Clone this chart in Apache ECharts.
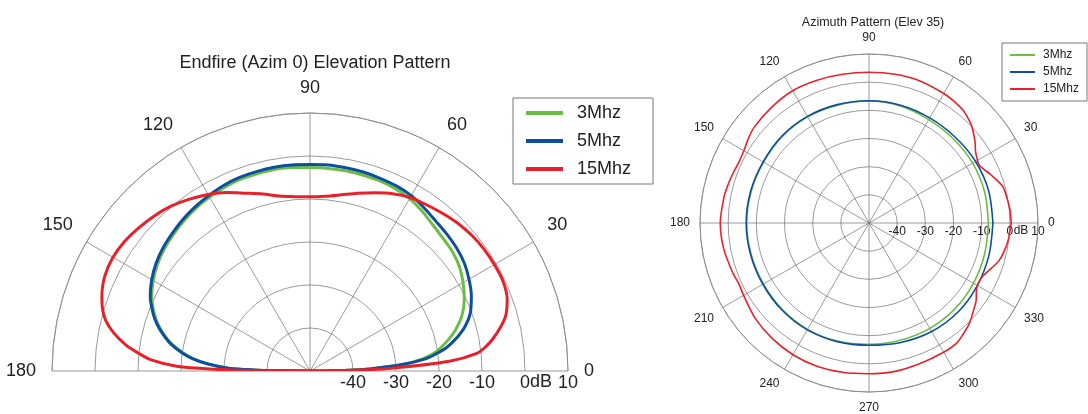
<!DOCTYPE html>
<html><head><meta charset="utf-8">
<script src="https://cdn.jsdelivr.net/npm/echarts@6/dist/echarts.min.js"></script>
<style>html,body{margin:0;padding:0;background:#fff}#c{width:1088px;height:414px}</style>
</head><body><div id="c"></div>
<script>
const seriesNames = ['3Mhz', '5Mhz', '15Mhz'];
const angleTicks = [0, 30, 60, 90, 120, 150, 180];
const radiusTicks = [-50, -40, -30, -20, -10, 0, 10];

// Elevation pattern (Azim 0), angle in degrees, value in dB
const elevAngles = [0,0.5,1,2,4,6,8,10,13,16,20,25,30,35,40,45,50,55,60,65,70,75,80,85,90,95,100,105,110,115,120,125,130,135,140,145,150,155,160,163,166,169,172,174,176,178,179,179.5,180];
const elev3 = [-50,-46,-42,-36,-28.5,-24,-21,-19.2,-16.8,-14.7,-12.4,-10.4,-8.9,-7.6,-6.8,-6.3,-5.6,-4.6,-3.7,-3.2,-2.9,-2.8,-2.7,-2.7,-2.7,-2.5,-2.4,-2.5,-2.6,-2.9,-3.3,-3.8,-4.4,-5.1,-5.8,-6.7,-7.9,-9.4,-11.5,-13.1,-15,-17.3,-20.3,-22.8,-26.3,-31,-37,-42,-50];
const elev5 = [-50,-46,-42,-36,-28.5,-23,-20,-17.5,-14.8,-12.5,-10.3,-8.6,-7.3,-6.2,-5.5,-5.0,-4.5,-3.7,-2.9,-2.5,-2.3,-2.1,-2.0,-1.9,-2.0,-1.9,-1.9,-2.0,-2.1,-2.4,-2.9,-3.4,-4.0,-4.7,-5.4,-6.3,-7.5,-9.0,-11.2,-12.8,-14.8,-17,-20,-22.5,-26,-31,-37,-42,-50];
const elev15 = [-50,-46,-40,-31,-17.5,-11,-8.6,-6.8,-4.5,-2.6,-1.2,-0.5,-0.5,-0.6,-0.9,-1.4,-2.1,-2.8,-3.4,-4.5,-5.9,-7.2,-8.4,-9.2,-9.5,-9.3,-8.7,-7.4,-6.0,-4.2,-2.6,-1.2,0.1,1.1,1.9,2.6,2.9,2.6,1.5,0.5,-1.0,-3.5,-6.8,-9.8,-13,-19,-28,-36,-50];

// Azimuth pattern (Elev 35)
const azAngles = [0,15,30,45,60,75,90,105,120,135,150,165,180,195,210,225,240,255,270,285,300,315,330,345,360];
const az3 = [-7.6,-7.5,-7.5,-7.7,-7.6,-7.0,-6.7,-6.7,-6.5,-6.5,-6.8,-6.7,-6.6,-6.7,-6.7,-6.5,-6.4,-6.6,-6.9,-6.9,-6.8,-6.9,-7.2,-7.5,-7.6];
const az5 = [-6.0,-6.0,-6.3,-6.8,-6.9,-6.7,-6.6,-6.5,-6.3,-6.3,-6.6,-6.5,-6.4,-6.5,-6.5,-6.3,-6.2,-6.4,-6.6,-6.1,-5.5,-5.3,-5.6,-5.9,-6.0];
const azRedAngles = [0,5,10,15,18,22,25,28,31,34,37,40,43,46,50,55,60,70,80,90,100,110,120,130,140,145,150,155,160,165,170,180,190,200,205,210,220,230,240,250,260,270,280,290,300,306,310,315,320,324,328,331,335,338,341,344,348,353,360];
const az15 = [0.5,0.3,-0.2,-0.7,-1.9,-3.6,-5.0,-5.8,-5.3,-4.4,-2.8,-1.4,0,1.0,2.1,2.7,3.1,3.6,3.6,3.5,3.6,3.9,4.2,3.7,3.1,2.3,1.3,1.0,1.4,1.9,2.3,2.8,2.4,1.5,1.0,1.4,2.7,3.5,4.0,4.1,3.8,3.5,3.5,3.1,3.0,2.8,1.8,0.4,-1.6,-3.0,-5.0,-5.7,-5.4,-4.4,-3.1,-1.9,-1.0,-0.2,0.5];

const colors = ['#6cbd45', '#0d4f9e', '#e8202a'];
const FONT = 'Liberation Sans, Arial, sans-serif';
const gridColor = '#6f6f6f';

function pairs(vals, angs) { return vals.map((v, i) => [v, angs[i]]); }

function angleAxis(idx, max, margin, fontSize, half) {
  const ax = {
    polarIndex: idx, type: 'value', min: 0, max: max, interval: 30,
    startAngle: 0, clockwise: false,
    axisLine: { show: true, lineStyle: { color: '#8a8a8a', width: 0.8 } },
    axisTick: { show: false },
    axisLabel: {
      margin: margin, fontSize: fontSize, color: '#222', fontFamily: FONT,
      formatter: v => (v === 360 ? '' : String(v))
    },
    splitLine: { show: true, lineStyle: { color: gridColor, width: 0.7 } }
  };
  if (half) ax.endAngle = 180;
  return ax;
}
function radiusAxis(idx, fontSize, nameGap) {
  return {
    polarIndex: idx, type: 'value', min: -50, max: 10, interval: 10,
    name: 'dB', nameLocation: 'end', nameGap: nameGap, nameMoveOverlap: false,
    nameTextStyle: { fontSize: fontSize, color: '#222', fontFamily: FONT, align: 'center', verticalAlign: 'top', padding: [2, 0, 0, 0] },
    axisLine: { show: false },
    axisTick: { show: false },
    axisLabel: {
      margin: -3, fontSize: fontSize, color: '#222', fontFamily: FONT,
      align: 'center', verticalAlign: 'top', hideOverlap: false,
      formatter: v => (v === -50 ? '' : String(v))
    },
    splitLine: { show: true, lineStyle: { color: gridColor, width: 0.7 } }
  };
}

const series = [];
[elev3, elev5, elev15].forEach((d, i) => series.push({
  name: seriesNames[i], type: 'line', coordinateSystem: 'polar', polarIndex: 0,
  data: pairs(d, elevAngles), showSymbol: false, symbol: 'none', smooth: 0.3,
  lineStyle: { width: 3, color: colors[i] }, itemStyle: { color: colors[i] }, z: 3 + i
}));
[[az3, azAngles], [az5, azAngles], [az15, azRedAngles]].forEach((p, i) => series.push({
  name: seriesNames[i], type: 'line', coordinateSystem: 'polar', polarIndex: 1,
  data: pairs(p[0], p[1]), showSymbol: false, symbol: 'none', smooth: 0.3,
  lineStyle: { width: 1.6, color: colors[i] }, itemStyle: { color: colors[i] }, z: 3 + i
}));

const chart = echarts.init(document.getElementById('c'), null, { renderer: 'canvas' });
chart.setOption({
  animation: false,
  textStyle: { fontFamily: FONT },
  title: [
    { text: 'Endfire (Azim 0) Elevation Pattern', left: 310, top: 49, textAlign: 'center',
      textStyle: { fontSize: 18, fontWeight: 'normal', color: '#222', fontFamily: FONT } },
    { text: 'Azimuth Pattern (Elev 35)', left: 868, top: 11, textAlign: 'center',
      textStyle: { fontSize: 12.5, fontWeight: 'normal', color: '#222', fontFamily: FONT } }
  ],
  legend: [
    { data: seriesNames, orient: 'vertical', left: 513, top: 98, icon: 'rect',
      itemWidth: 37, itemHeight: 4, itemGap: 10, padding: [6, 22, 6, 13],
      borderColor: '#777', borderWidth: 1, selectedMode: false,
      textStyle: { fontSize: 18, color: '#222', fontFamily: FONT, padding: [0, 0, 0, 9] } },
    { data: seriesNames, orient: 'vertical', left: 1002, top: 43, icon: 'rect',
      itemWidth: 25, itemHeight: 2, itemGap: 5, padding: [6, 8, 6, 8],
      borderColor: '#777', borderWidth: 1, selectedMode: false,
      textStyle: { fontSize: 12, color: '#222', fontFamily: FONT, padding: [0, 0, 0, 3] } }
  ],
  polar: [
    { center: [310, 371], radius: 258 },
    { center: [869, 223], radius: 169 }
  ],
  angleAxis: [angleAxis(0, 180, 16, 18, true), angleAxis(1, 360, 10, 12, false)],
  radiusAxis: [radiusAxis(0, 18, -27), radiusAxis(1, 12, -17)],
  series: series
});
</script></body></html>
